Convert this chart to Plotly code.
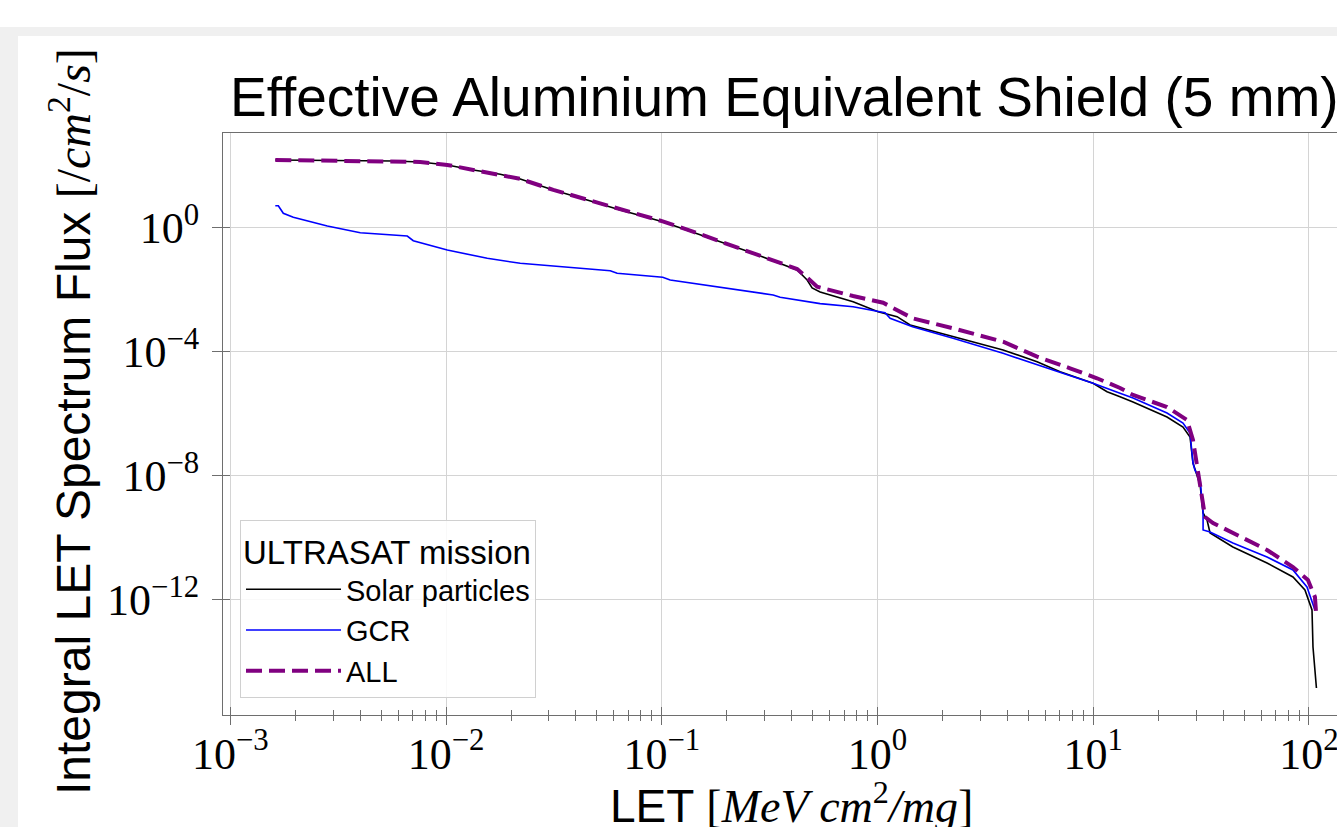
import plotly.graph_objects as go

# LET spectra behind a 5 mm aluminium-equivalent shield (integral flux, /cm^2/s)
solar_let = [1.616e-3, 5.69e-3, 7.59e-3, 1.013e-2, 1.337e-2, 1.784e-2, 2.207e-2, 3.14e-2,
             4.51e-2, 6.42e-2, 0.101, 0.1312, 0.1865, 0.2652, 0.3538, 0.4240, 0.4719,
             0.4976, 0.542, 0.7707, 1.006, 1.232, 1.416, 2.240, 3.819, 5.491, 7.02, 9.98,
             11.59, 13.31, 15.29, 21.98, 26.07, 28.1, 29.0, 31.3, 32.3, 33.7, 34.8, 44.4,
             63.9, 84.3, 95.8, 103.3, 104.4, 108.3]
solar_flux = [152.7, 141.8, 131.6, 105.4, 72.6, 52.8, 37.2, 16.4,
              7.83, 3.72, 1.561, 0.843, 0.3535, 0.1493, 0.0710, 0.0432, 0.02056,
              0.01134, 8.43e-3, 4.10e-3, 1.95e-3, 1.35e-3, 7.26e-4, 3.05e-4, 1.135e-4, 4.76e-5, 2.26e-5, 9.56e-6,
              5.13e-6, 3.54e-6, 2.38e-6, 7.82e-7, 3.72e-7, 1.77e-7, 2.57e-8, 5.01e-9, 6.26e-10, 3.72e-10, 1.42e-10, 5.01e-11,
              1.53e-11, 5.40e-12, 2.06e-12, 4.65e-13, 2.98e-14, 1.42e-15]

gcr_let = [1.616e-3, 1.669e-3, 1.760e-3, 1.958e-3, 2.815e-3, 4.003e-3, 6.610e-3, 7.047e-3,
           1.013e-2, 1.552e-2, 2.207e-2, 5.77e-2, 6.21e-2, 0.101, 0.1094, 0.1865, 0.2308,
           0.3283, 0.3538, 0.542, 0.7707, 1.084, 1.144, 1.454, 2.240, 3.819, 6.51, 9.98,
           13.31, 15.29, 21.98, 26.07, 28.1, 29.0, 29.6, 31.3, 32.3, 32.3, 34.8, 44.4,
           63.9, 84.3, 97.9, 106.6]
gcr_flux = [5.125, 5.125, 2.914, 2.165, 1.134, 0.690, 0.540, 0.3808,
            0.1909, 0.1030, 0.0710, 0.0410, 0.0338, 0.0251, 0.02056, 0.01195, 9.78e-3,
            6.75e-3, 5.69e-3, 3.55e-3, 2.83e-3, 1.81e-3, 1.195e-3, 6.41e-4, 2.71e-4, 8.88e-5, 2.57e-5, 9.56e-6,
            4.55e-6, 3.21e-6, 1.054e-6, 5.01e-7, 2.38e-7, 2.57e-8, 1.53e-8, 7.26e-9, 6.26e-10, 1.77e-10, 1.53e-10, 6.75e-11,
            2.38e-11, 9.08e-12, 2.57e-12, 4.65e-13]

all_let = [1.616e-3, 5.69e-3, 7.59e-3, 1.013e-2, 1.337e-2, 1.784e-2, 2.207e-2, 3.14e-2,
           4.51e-2, 6.42e-2, 0.101, 0.1312, 0.1865, 0.2652, 0.3538, 0.4240, 0.4719,
           0.5249, 0.7707, 1.062, 1.454, 2.240, 3.819, 5.491, 7.81, 10.41, 13.31, 15.29,
           21.98, 27.21, 29.0, 30.6, 31.9, 33.0, 35.9, 44.4, 63.9, 84.3, 98.9, 106.6, 108.3]
all_flux = [153.0, 142.5, 132.0, 106.0, 73.0, 53.2, 37.5, 16.6,
            7.95, 3.80, 1.60, 0.87, 0.366, 0.156, 0.0755, 0.0465, 0.0245,
            0.0125, 6.26e-3, 3.8e-3, 1.195e-3, 5.69e-4, 2.10e-4, 6.90e-5, 2.91e-5, 1.39e-5, 6.75e-6, 4.01e-6,
            1.64e-6, 6.26e-7, 1.42e-7, 1.22e-8, 2.06e-9, 4.65e-10, 2.98e-10, 1.42e-10, 4.01e-11, 1.135e-11, 4.32e-12, 1.22e-12, 2.57e-13]

x_major = [1e-3, 1e-2, 1e-1, 1e0, 1e1, 1e2]
x_major_text = ["10<sup>\u22123</sup>", "10<sup>\u22122</sup>", "10<sup>\u22121</sup>",
                "10<sup>0</sup>", "10<sup>1</sup>", "10<sup>2</sup>"]
y_major = [1e0, 1e-4, 1e-8, 1e-12]
y_major_text = ["10<sup>0</sup>", "10<sup>\u22124</sup>", "10<sup>\u22128</sup>", "10<sup>\u221212</sup>"]
x_minor = [m * d for d in [1e-3, 1e-2, 1e-1, 1e0, 1e1] for m in range(2, 10)]

# figure geometry (pixels)
FIG_W, FIG_H = 1337, 827
M_L, M_R, M_T, M_B = 223, 0, 133, 112
PW, PH = FIG_W - M_L - M_R, FIG_H - M_T - M_B


def px2x(px):
    return (px - M_L) / PW


def px2y(py):
    return (FIG_H - M_B - py) / PH


SANS = "Liberation Sans"
SERIF = "Liberation Serif"
GRID = "#d4d4d4"
SPINE = "#6e6e6e"

fig = go.Figure()
fig.add_trace(go.Scatter(x=solar_let, y=solar_flux, mode="lines", name="Solar particles",
                         line=dict(color="black", width=1.6)))
fig.add_trace(go.Scatter(x=gcr_let, y=gcr_flux, mode="lines", name="GCR",
                         line=dict(color="#0000ff", width=1.6)))
fig.add_trace(go.Scatter(x=all_let, y=all_flux, mode="lines", name="ALL",
                         line=dict(color="#800080", width=4, dash="16px,7px")))

x_range = [-3.034, 2.130]
y_range = [-15.72, 3.055]

fig.update_layout(
    width=FIG_W, height=FIG_H,
    margin=dict(l=M_L, r=M_R, t=M_T, b=M_B, autoexpand=False),
    paper_bgcolor="white", plot_bgcolor="white",
    xaxis=dict(type="log", range=x_range, tickmode="array", tickvals=x_major, ticktext=x_major_text,
               ticks="outside", ticklen=9, tickwidth=1, tickcolor=SPINE,
               showline=True, linecolor=SPINE, linewidth=1, mirror=True,
               showgrid=True, gridcolor=GRID, gridwidth=1, zeroline=False,
               tickfont=dict(family=SERIF, size=44, color="black"), ticklabelstandoff=-9,
               ticklabeloverflow="allow",
               minor=dict(tickmode="array", tickvals=x_minor, ticks="outside", ticklen=5,
                          tickcolor=SPINE, tickwidth=1, showgrid=False),
               automargin=False),
    xaxis2=dict(type="log", range=x_range, overlaying="x", anchor="y", side="bottom",
                tickmode="array", tickvals=x_major, ticks="inside", ticklen=8, tickwidth=1,
                tickcolor=SPINE, showticklabels=False, showgrid=False, zeroline=False,
                minor=dict(tickmode="array", tickvals=x_minor, ticks="inside", ticklen=5,
                           tickcolor=SPINE, tickwidth=1, showgrid=False),
                automargin=False),
    yaxis=dict(type="log", range=y_range, tickmode="array", tickvals=y_major, ticktext=y_major_text,
               ticks="outside", ticklen=10, tickwidth=1, tickcolor=SPINE,
               showline=True, linecolor=SPINE, linewidth=1,
               showgrid=True, gridcolor=GRID, gridwidth=1, zeroline=False,
               tickfont=dict(family=SERIF, size=44, color="black"), ticklabelstandoff=4,
               automargin=False),
    yaxis2=dict(type="log", range=y_range, overlaying="y", anchor="x", side="left",
                tickmode="array", tickvals=y_major, ticks="inside", ticklen=7, tickwidth=1,
                tickcolor=SPINE, showticklabels=False, showgrid=False, zeroline=False,
                automargin=False),
    legend=dict(x=px2x(240), y=px2y(698), xanchor="left", yanchor="bottom",
                bgcolor="rgba(255,255,255,0.85)", bordercolor="#d0d0d0", borderwidth=1,
                font=dict(family=SANS, size=29, color="black"),
                title=dict(text="ULTRASAT mission", font=dict(family=SANS, size=33, color="black")),
                itemwidth=95, tracegroupgap=0),
    showlegend=True,
)

# invisible helper trace to activate the overlay axes carrying the inner tick marks
fig.add_trace(go.Scatter(x=[1e-2], y=[1e0], xaxis="x2", yaxis="y2", mode="markers",
                         marker=dict(opacity=0), showlegend=False, hoverinfo="skip"))

# page frame: light grey strips at the top and left
fig.add_shape(type="rect", xref="paper", yref="paper", x0=px2x(0), x1=px2x(FIG_W),
              y0=px2y(36), y1=px2y(27), fillcolor="#f0f0f0", line=dict(width=0), layer="below")
fig.add_shape(type="rect", xref="paper", yref="paper", x0=px2x(0), x1=px2x(18),
              y0=px2y(FIG_H), y1=px2y(27), fillcolor="#f0f0f0", line=dict(width=0), layer="below")

math = "font-family:'Liberation Serif'"
fig.add_annotation(text="Effective Aluminium Equivalent Shield (5 mm)", xref="paper", yref="paper",
                   x=px2x(228), y=px2y(97), xanchor="left", yanchor="middle", showarrow=False,
                   font=dict(family=SANS, size=55, color="black"))
fig.add_annotation(text=f"LET <span style=\"{math}\">[<i>MeV cm</i><sup>2</sup><i>/mg</i>]</span>",
                   xref="paper", yref="paper", x=px2x(791), y=px2y(803), xanchor="center",
                   yanchor="middle", showarrow=False, font=dict(family=SANS, size=46, color="black"))
fig.add_annotation(text=f"Integral LET Spectrum Flux <span style=\"{math}\">[/<i>cm</i><sup>2</sup>/<i>s</i>]</span>",
                   xref="paper", yref="paper", x=px2x(70), y=px2y(422), xanchor="center",
                   yanchor="middle", textangle=-90, showarrow=False,
                   font=dict(family=SANS, size=48, color="black"))

fig.write_html("out.html")
